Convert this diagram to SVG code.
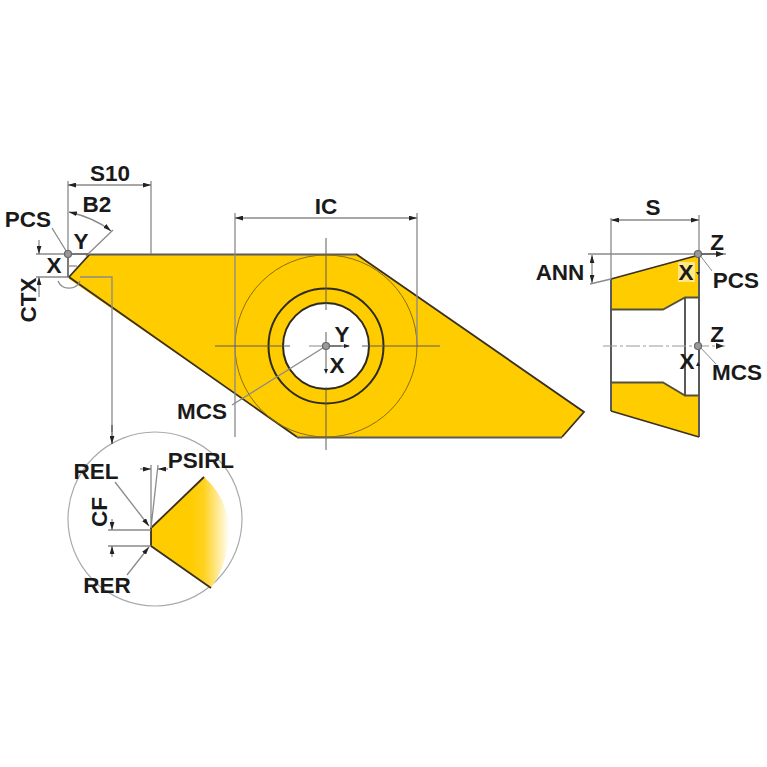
<svg xmlns="http://www.w3.org/2000/svg" width="767" height="767" viewBox="0 0 767 767">
<style>
text{font-family:"Liberation Sans",Arial,sans-serif;font-weight:700;font-size:22.5px;fill:#1a1a1a;text-anchor:middle}
.d{fill:none;stroke:#8a8a8a;stroke-width:1.3}
.k{fill:none;stroke:#555;stroke-width:1.2}
.b{fill:#ffcc00;stroke:none}
.e{fill:none;stroke:#3a3020;stroke-width:1.8}
.ln{fill:none;stroke:#5a5a5a;stroke-width:2}
.dot{fill:#999;stroke:#666;stroke-width:1.2}
.ah{fill:#222;stroke:none}
</style>
<defs>
<marker id="a" viewBox="0 0 10 6" refX="10" refY="3" markerWidth="8" markerHeight="5" orient="auto-start-reverse" markerUnits="userSpaceOnUse"><path class="ah" d="M0 0L10 3L0 6Z"/></marker>
<linearGradient id="g" gradientUnits="userSpaceOnUse" x1="190" y1="0" x2="230" y2="0"><stop offset="0" stop-color="#ffcc00"/><stop offset=".35" stop-color="#ffd21f"/><stop offset="1" stop-color="#ffffff"/></linearGradient>
</defs>

<g id="insert-top">
<path class="b" d="M69 277L90 254H356L584 412L562 437H297L69 279Z"/>
<path class="e" d="M90 254L69 277L297 437"/>
<path class="e" d="M356 254L584 412L562 437"/>
<path class="ln" d="M90 254.500H356M297 437.500H562"/>
<circle cx="326" cy="346" r="91" fill="none" stroke="#8a6d10" stroke-width="1"/>
<circle cx="326" cy="346" r="57.500" fill="none" stroke="#2e2a1c" stroke-width="2"/>
<circle cx="326" cy="346" r="43" fill="#fff" stroke="#2e2a1c" stroke-width="2"/>
</g>

<g id="insert-side">
<path class="b" d="M611 279L699 255V297H685L663 309H611Z"/>
<path class="b" d="M611 382H663L685 395H699V437L611 411Z"/>
<rect x="678" y="262" width="17" height="20" fill="#ffe88a"/>
<path class="ln" d="M611 279V411M699 255V437M685 297V395"/>
<path class="e" d="M611 279L699 255M611 411L699 437"/>
<path class="e" d="M611 309.500H663L685 297.500H699M611 382.500H663L685 395.500H699" style="stroke:#55503a"/>
</g>

<g id="detail">
<circle cx="155" cy="519" r="87" fill="none" stroke="#aaa" stroke-width="1.200"/>
<path d="M151 529L204 477Q228 498 229 530Q229 562 211 588L151 546Z" fill="url(#g)"/>
<path class="e" d="M204 477L151 528V546L211 588" stroke-width="2"/>
</g>

<g id="connectors">
<path class="d" d="M68 181V277M151 181V254"/>
<path class="d" d="M68 185H151" marker-start="url(#a)" marker-end="url(#a)"/>
<path class="d" d="M69 212Q95 218 111 231" marker-start="url(#a)" marker-end="url(#a)"/>
<path class="d" d="M86 256L113 230"/>
<path class="d" d="M52 228L68 254"/>
<path class="d" d="M36 254H90M36 277H69"/>
<path class="d" d="M39 240V254" marker-end="url(#a)"/>
<path class="d" d="M39 290V277" marker-end="url(#a)"/>
<path class="d" d="M39 290V297"/>
<path class="k" d="M68 254V277"/>
<path class="k" d="M68 254H88"/>
<path class="d" d="M58 281A12 12 0 0 0 80 281"/>
<path class="d" d="M68 266H77"/>
<path class="d" d="M80 277H112V432"/>
<path class="k" d="M112 425V444" marker-end="url(#a)"/>
<path class="d" d="M235 213V437M417 213V346"/>
<path class="d" d="M235 218H417" marker-start="url(#a)" marker-end="url(#a)"/>
<path d="M326 238V310M326 332V372M326 387V450M215 346H290M362 346H440" stroke="#5c5c5c" stroke-width="1" fill="none"/>
<path d="M309 346H341" stroke="#888" stroke-width="1" fill="none"/>
<path class="d" d="M232 405L326 346"/>
<path d="M326 346H349" stroke="#333" stroke-width="1" fill="none"/>
<path class="d" d="M115 482L149 526" marker-end="url(#a)"/>
<path class="d" d="M127 575L149 547" marker-end="url(#a)"/>
<path class="d" d="M151 528V465M158 465L151 528"/>
<path class="d" d="M140 469H151" marker-end="url(#a)"/>
<path class="d" d="M168 469H158" marker-end="url(#a)"/>
<path class="d" d="M108 530H151M108 546H151"/>
<path class="d" d="M112 519V530" marker-end="url(#a)"/>
<path class="d" d="M112 557V546" marker-end="url(#a)"/>
<path class="d" d="M611 218V279M699 215V254"/>
<path class="d" d="M611 220H699" marker-start="url(#a)" marker-end="url(#a)"/>
<path class="d" d="M588 254H726"/>
<path class="d" d="M592 255V283" marker-start="url(#a)" marker-end="url(#a)"/>
<path class="d" d="M590 284L611 279"/>
<path d="M699 254H723" stroke="#333" stroke-width="1" fill="none"/>
<path d="M699 254L712 271" stroke="#888" stroke-width="1" fill="none"/>
<path d="M603 346H725" stroke="#999" stroke-width="1" stroke-dasharray="14 3 3 3" fill="none"/>
<path d="M699 346L716 364" stroke="#888" stroke-width="1" fill="none"/>
<path class="ah" d="M696 272L700 272L698 275Z M696 366H700L698 362Z M716 251L724 254L716 257Z M716 343L724 346L716 349Z M324 369H328L326 374Z M344 344L350 346L344 348Z"/>
</g>

<g id="origins">
<circle class="dot" cx="68" cy="254" r="3.500"/>
<circle class="dot" cx="326" cy="346" r="3.500"/>
<circle class="dot" cx="698" cy="254" r="3.500"/>
<circle class="dot" cx="698" cy="346" r="3.500"/>
</g>

<g id="labels">
<text x="110" y="181">S10</text>
<text x="97" y="212">B2</text>
<text x="28" y="227">PCS</text>
<text x="81" y="249">Y</text>
<text x="54" y="273">X</text>
<text transform="translate(36,300) rotate(-90)">CTX</text>
<text x="326" y="214">IC</text>
<text x="342" y="342">Y</text>
<text x="337" y="373">X</text>
<text x="202" y="419">MCS</text>
<text x="96" y="479">REL</text>
<text x="201" y="468">PSIRL</text>
<text transform="translate(107,512) rotate(-90)">CF</text>
<text x="107" y="593">RER</text>
<text x="653" y="215">S</text>
<text x="560" y="280">ANN</text>
<text x="717" y="250">Z</text>
<text x="686" y="280">X</text>
<text x="736" y="288">PCS</text>
<text x="717" y="342">Z</text>
<text x="687" y="369">X</text>
<text x="737" y="380">MCS</text>
</g>
</svg>
